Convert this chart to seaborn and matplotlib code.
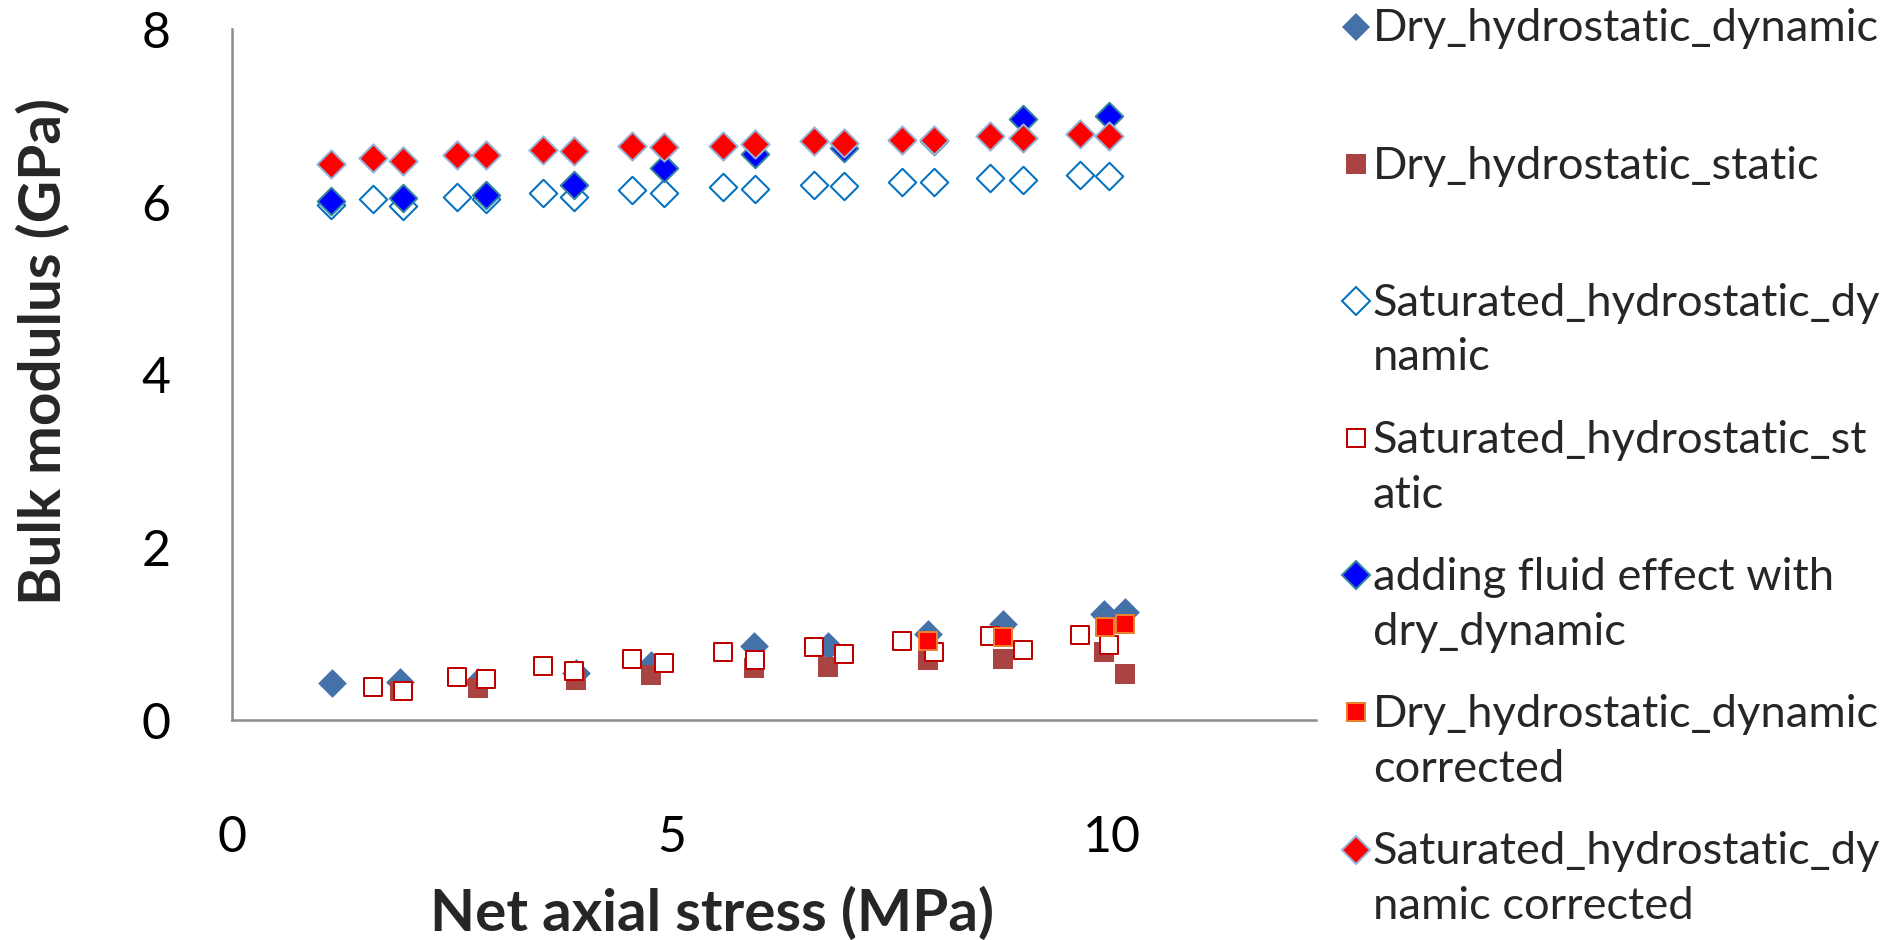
import numpy as np
import pandas as pd
import matplotlib
matplotlib.use("Agg")
import matplotlib.pyplot as plt
import seaborn as sns
from matplotlib.lines import Line2D
from matplotlib.legend_handler import HandlerLine2D

# ---- data: bulk modulus (GPa) versus net axial stress (MPa) ----
x_dry = [1.13, 1.91, 2.79, 3.91, 4.76, 5.93, 6.77, 7.91, 8.76, 9.91, 10.15]
dry_dynamic = [0.43, 0.44, 0.44, 0.54, 0.64, 0.86, 0.86, 1.00, 1.11, 1.23, 1.25]

x_dry_static = [1.91, 2.79, 3.91, 4.76, 5.93, 6.77, 7.91, 8.76, 9.91, 10.15]
dry_static = [0.34, 0.37, 0.46, 0.52, 0.60, 0.61, 0.69, 0.71, 0.79, 0.53]

x_sat = [1.12, 1.60, 1.94, 2.56, 2.89, 3.53, 3.89, 4.54, 4.91, 5.58,
         5.94, 6.62, 6.96, 7.62, 7.98, 8.62, 8.99, 9.64, 9.97]
sat_dynamic = [5.97, 6.03, 5.95, 6.06, 6.04, 6.10, 6.06, 6.14, 6.11, 6.17,
               6.15, 6.20, 6.19, 6.23, 6.23, 6.28, 6.26, 6.31, 6.30]
sat_dynamic_corrected = [6.44, 6.51, 6.47, 6.54, 6.55, 6.60, 6.59, 6.65, 6.64, 6.65,
                         6.67, 6.71, 6.68, 6.72, 6.72, 6.77, 6.74, 6.79, 6.77]

x_sat_static = [1.60, 1.94, 2.56, 2.89, 3.53, 3.89, 4.54, 4.91, 5.58,
                5.94, 6.62, 6.96, 7.62, 7.98, 8.62, 8.99, 9.64, 9.97]
sat_static = [0.38, 0.34, 0.50, 0.47, 0.63, 0.57, 0.71, 0.66, 0.79,
              0.69, 0.85, 0.77, 0.91, 0.79, 0.97, 0.81, 0.98, 0.87]

x_fluid = [1.12, 1.94, 2.89, 3.89, 4.91, 5.94, 6.96, 7.98, 8.99, 9.97]
fluid_added = [6.01, 6.05, 6.08, 6.20, 6.39, 6.56, 6.62, 6.71, 6.96, 7.00]

x_dry_corr = [7.91, 8.76, 9.92, 10.15]
dry_dynamic_corrected = [0.91, 0.96, 1.08, 1.11]

labels = [
    "Dry_hydrostatic_dynamic",
    "Dry_hydrostatic_static",
    "Saturated_hydrostatic_dy\nnamic",
    "Saturated_hydrostatic_st\natic",
    "adding fluid effect with\ndry_dynamic",
    "Dry_hydrostatic_dynamic\ncorrected",
    "Saturated_hydrostatic_dy\nnamic corrected",
]

x_ticks = [0, 5, 10]
y_ticks = [0, 2, 4, 6, 8]

# ---- styling ----
sns.set_style("white")
plt.rcParams["font.family"] = ["Lato", "DejaVu Sans"]

AXIS_GREY = "#8C8C8C"
PX = 72 / 100  # one pixel in points at dpi 100

# (x, y, marker, size[pt], face, edge, edge width[pt])
series = [
    (x_dry, dry_dynamic, "D", 14.6, "#4571A9", "#4571A9", 0.0),
    (x_dry_static, dry_static, "s", 14.2, "#A94442", "#A94442", 0.0),
    (x_sat, sat_dynamic, "D", 14.0, "white", "#0070C0", 2 * PX),
    (x_sat_static, sat_static, "s", 13.4, "white", "#C00000", 2 * PX),
    (x_fluid, fluid_added, "D", 14.0, "#0000FF", "#31859C", 2 * PX),
    (x_dry_corr, dry_dynamic_corrected, "s", 13.4, "#FF0000", "#EB802E", 2 * PX),
    (x_sat, sat_dynamic_corrected, "D", 14.4, "#FF0000", "#95B3D7", 2 * PX),
]

fig = plt.figure(figsize=(18.85, 9.4), dpi=100)
ax = fig.add_axes([0.1232, 0.2340, 0.6980 - 0.1232, 0.9688 - 0.2340])

handles = []
for z, (xs, ys, mk, ms, fc, ec, lw) in enumerate(series):
    df = pd.DataFrame({"x": xs, "y": ys})
    sns.scatterplot(data=df, x="x", y="y", ax=ax, marker=mk, s=ms ** 2,
                    color=fc, edgecolor=ec, linewidth=lw, zorder=3 + z,
                    legend=False, clip_on=False)
    handles.append(Line2D([0], [0], marker=mk, linestyle="none", markersize=ms,
                          markerfacecolor=fc, markeredgecolor=ec,
                          markeredgewidth=lw))

ax.set_xlim(0, 12.32)
ax.set_ylim(0, 8)
ax.set_xticks(x_ticks)
ax.set_yticks(y_ticks)
ax.set_xticklabels([str(v) for v in x_ticks])
ax.set_yticklabels([str(v) for v in y_ticks])

for side in ("top", "right"):
    ax.spines[side].set_visible(False)
for side in ("left", "bottom"):
    ax.spines[side].set_color(AXIS_GREY)
    ax.spines[side].set_linewidth(1.8)

ax.tick_params(axis="both", direction="out", length=14.4, width=1.3,
               color=AXIS_GREY, labelsize=36, labelcolor="black")
ax.tick_params(axis="x", pad=54)
ax.tick_params(axis="y", pad=30)

ax.set_xlabel("Net axial stress (MPa)", fontsize=42, fontweight="bold")
ax.set_ylabel("Bulk modulus (GPa)", fontsize=42, fontweight="bold")
ax.xaxis.label.set_va("center")
ax.yaxis.label.set_va("center")
ax.yaxis.label.set_ha("center")
ax.xaxis.set_label_coords(0.4428, -0.281)
ax.yaxis.set_label_coords(-0.1735, 0.533)


class FirstLineHandler(HandlerLine2D):
    """Place the legend marker beside the first line of a two-line label."""

    def __init__(self, shift, **kw):
        super().__init__(**kw)
        self.shift = shift

    def create_artists(self, legend, orig_handle, xdescent, ydescent,
                       width, height, fontsize, trans):
        artists = super().create_artists(legend, orig_handle, xdescent,
                                         ydescent, width, height, fontsize,
                                         trans)
        for a in artists:
            a.set_ydata(np.asarray(a.get_ydata(), dtype=float) + self.shift)
        return artists


# every entry gets two text lines so the rows are evenly spaced
legend_labels = [lab if "\n" in lab else lab + "\n " for lab in labels]
leg = fig.legend(handles, legend_labels, loc="upper left",
                 bbox_to_anchor=(0.7122, 0.991), bbox_transform=fig.transFigure,
                 frameon=False, fontsize=32.6, borderpad=0, borderaxespad=0,
                 handlelength=0.6, handletextpad=0.07, labelspacing=0.91,
                 handler_map={Line2D: FirstLineHandler(21.5)})
for t in leg.get_texts():
    t.set_linespacing(1.42)

fig.savefig("out.png", dpi=100)
